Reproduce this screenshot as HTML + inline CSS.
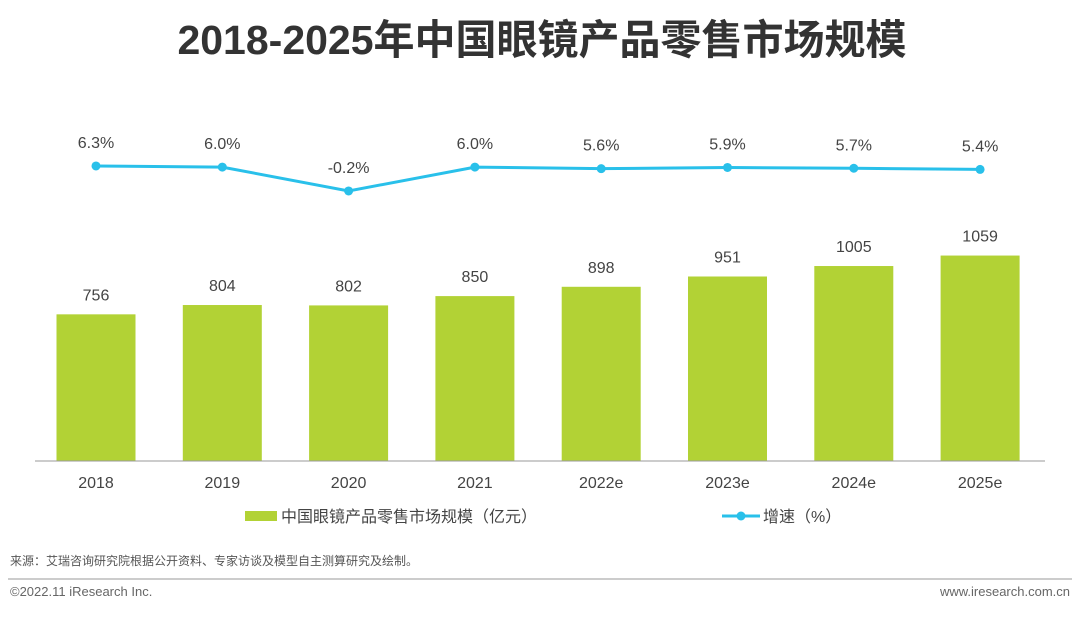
<!DOCTYPE html>
<html><head><meta charset="utf-8"><style>
body{margin:0;width:1080px;height:614px;background:#fff;overflow:hidden;font-family:"Liberation Sans","Noto Sans CJK SC",sans-serif;}
svg text{font-family:"Liberation Sans","Noto Sans CJK SC",sans-serif;}
</style></head><body>
<svg width="1080" height="614">
<text x="542" y="54" text-anchor="middle" font-size="41" font-weight="bold" fill="#333">2018-2025年中国眼镜产品零售市场规模</text>
<g id="bars"></g><g id="line"></g>
<line x1="35" y1="461" x2="1045" y2="461" stroke="#999" stroke-width="1"/>
<g>
<rect x="245" y="511" width="32" height="10" fill="#b2d235"/>
<text x="281" y="522" font-size="16" fill="#444">中国眼镜产品零售市场规模（亿元）</text>
<line x1="722" y1="516" x2="760" y2="516" stroke="#29c0ea" stroke-width="3"/>
<circle cx="741" cy="516" r="4.5" fill="#29c0ea"/>
<text x="763" y="522" font-size="16" fill="#444">增速（%）</text>
</g>
<text x="10" y="565" font-size="12" fill="#555">来源：艾瑞咨询研究院根据公开资料、专家访谈及模型自主测算研究及绘制。</text>
<line x1="8" y1="579" x2="1072" y2="579" stroke="#bbb" stroke-width="1.5"/>
<text x="10" y="596" font-size="13" fill="#666">©2022.11 iResearch Inc.</text>
<text x="1070" y="596" font-size="13" fill="#666" text-anchor="end">www.iresearch.com.cn</text>
</svg>
<script>
const categories=["2018","2019","2020","2021","2022e","2023e","2024e","2025e"];
const marketSize=[756,804,802,850,898,951,1005,1059];
const growthRate=[6.3,6.0,-0.2,6.0,5.6,5.9,5.7,5.4];
const growthLabels=["6.3%","6.0%","-0.2%","6.0%","5.6%","5.9%","5.7%","5.4%"];
const NS="http://www.w3.org/2000/svg";
const xPos=i=>96+i*126.3;
const yBar=v=>461-v*0.194;
const yLine=v=>190.2-v*3.85;
function mk(tag,attrs,parent,txt){const e=document.createElementNS(NS,tag);for(const k in attrs)e.setAttribute(k,attrs[k]);if(txt!==undefined)e.textContent=txt;parent.appendChild(e);return e;}
const bg=document.getElementById('bars'),lg=document.getElementById('line');
categories.forEach((c,i)=>{
 const x=xPos(i),y=yBar(marketSize[i]);
 const r=mk('rect',{x:x-39.5,y:y,width:79,height:461-y,fill:'#b2d235'},bg);
 
 
 const t=mk('text',{x:x,y:y-14,'text-anchor':'middle','font-size':16,fill:'#444'},bg,marketSize[i]);
 
 
 const xl=mk('text',{x:x,y:488,'text-anchor':'middle','font-size':16,fill:'#444'},bg,c);
 
 
});
const pts=growthRate.map((v,i)=>xPos(i)+','+yLine(v)).join(' ');
const pl=mk('polyline',{points:pts,fill:'none',stroke:'#29c0ea','stroke-width':3},lg);


growthRate.forEach((v,i)=>{
 const x=xPos(i),y=yLine(v);
 const c=mk('circle',{cx:x,cy:y,r:4.5,fill:'#29c0ea'},lg);
 
 
 const t=mk('text',{x:x,y:y-18,'text-anchor':'middle','font-size':16,fill:'#444'},lg,growthLabels[i]);
 
 
});
</script>
</body></html>
